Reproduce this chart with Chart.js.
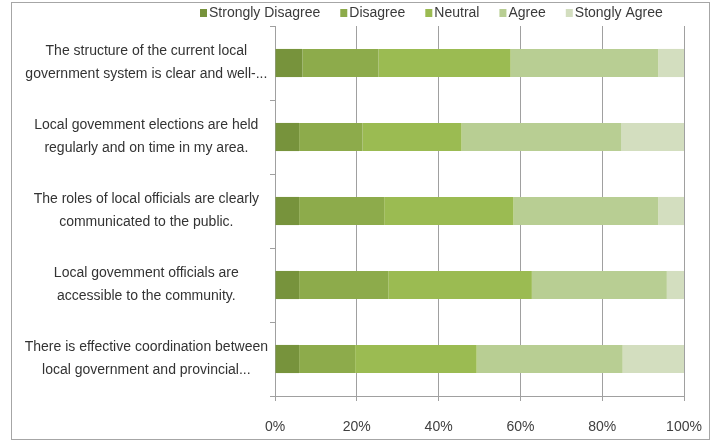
<!DOCTYPE html>
<html>
<head>
<meta charset="utf-8">
<script src="https://cdn.jsdelivr.net/npm/chart.js@4/dist/chart.umd.min.js"></script>
<style>
  html, body { margin: 0; padding: 0; background: #ffffff; }
  #wrap { width: 715px; height: 441px; position: relative; }
</style>
</head>
<body>
<div id="wrap"><canvas id="c" width="715" height="441"></canvas></div>
<script>
// Survey statements (two-line labels)
const statements = [
  ["The structure of the current local", "government system is clear and well-..."],
  ["Local govemment elections are held", "regularly and on time in my area."],
  ["The roles of local officials are clearly", "communicated to the public."],
  ["Local govemment officials are", "accessible to the community."],
  ["There is effective coordination between", "local government and provincial..."]
];

// Response shares (%) per statement
const stronglyDisagree = [6.7, 5.9, 5.9, 5.9, 5.9];
const disagree         = [18.6, 15.5, 20.8, 21.8, 13.7];
const neutral          = [32.3, 24.2, 31.6, 35.1, 29.7];
const agree            = [36.1, 39.0, 35.4, 33.0, 35.7];
const stronglyAgree    = [6.3, 15.4, 6.3, 4.2, 15.0];

const seriesNames = ["Strongly Disagree", "Disagree", "Neutral", "Agree", "Stongly Agree"];
const xTicks = [0, 20, 40, 60, 80, 100];

const FONT = '"Liberation Sans", Arial, sans-serif';
const colors = ["#77933c", "#8dab4b", "#9bbb52", "#b8ce93", "#d3debf"];
const seriesValues = [stronglyDisagree, disagree, neutral, agree, stronglyAgree];

// Outer frame and white background
const framePlugin = {
  id: 'frame',
  beforeDraw(chart) {
    const { ctx, width, height } = chart;
    ctx.save();
    ctx.fillStyle = '#ffffff';
    ctx.fillRect(0, 0, width, height);
    ctx.strokeStyle = '#a6a6a6';
    ctx.lineWidth = 1;
    ctx.strokeRect(11.5, 2.5, width - 17, height - 4);
    ctx.restore();
  }
};

// Compact legend row above the plot
const legendPlugin = {
  id: 'topLegend',
  afterDraw(chart) {
    const { ctx, chartArea } = chart;
    ctx.save();
    ctx.font = '14px ' + FONT;
    ctx.textBaseline = 'middle';
    let x = chartArea.left - 75;
    const y = 13;
    chart.data.datasets.forEach(ds => {
      ctx.fillStyle = ds.backgroundColor;
      ctx.fillRect(x, y - 4, 7, 8);
      x += 9;
      ctx.fillStyle = '#3a3a3a';
      ctx.fillText(ds.label, x, y);
      x += ctx.measureText(ds.label).width + 20;
    });
    ctx.restore();
  }
};

new Chart(document.getElementById('c'), {
  type: 'bar',
  data: {
    labels: statements,
    datasets: seriesNames.map((name, i) => ({
      label: name,
      data: seriesValues[i],
      backgroundColor: colors[i],
      borderWidth: 0,
      categoryPercentage: 1,
      barPercentage: 0.38
    }))
  },
  options: {
    indexAxis: 'y',
    responsive: false,
    animation: false,
    devicePixelRatio: 1,
    layout: { padding: { top: 26, left: 11, right: 31, bottom: 0 } },
    plugins: {
      legend: { display: false },
      tooltip: { enabled: false }
    },
    scales: {
      x: {
        stacked: true,
        min: 0,
        max: 100,
        afterBuildTicks(axis) { axis.ticks = xTicks.map(v => ({ value: v })); },
        afterFit(axis) { axis.height = 45; axis.paddingRight = 0; axis.paddingLeft = 0; },
        ticks: {
          callback: v => v + '%',
          color: '#404040',
          font: { family: FONT, size: 14 },
          padding: 18,
          maxRotation: 0
        },
        grid: { color: '#a0a0a0', lineWidth: 1, tickLength: 5, drawTicks: true },
        border: { color: '#a0a0a0', width: 1 }
      },
      y: {
        stacked: true,
        afterFit(axis) { axis.width = 264; },
        ticks: {
          crossAlign: 'center',
          color: '#333333',
          font: { family: FONT, size: 14, lineHeight: 1.65 },
          padding: 2
        },
        grid: { offset: true, drawOnChartArea: false, color: '#a0a0a0', tickLength: 5 },
        border: { color: '#a0a0a0', width: 1 }
      }
    }
  },
  plugins: [framePlugin, legendPlugin]
});
</script>
</body>
</html>
